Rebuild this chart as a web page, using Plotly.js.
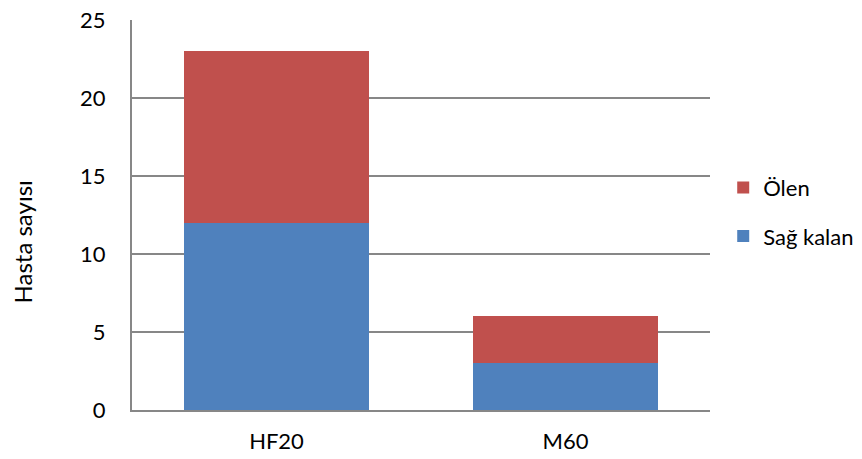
<!DOCTYPE html>
<html>
<head>
<meta charset="utf-8">
<script src="https://cdn.plot.ly/plotly-3.0.1.min.js"></script>
<style>
  html, body { margin: 0; padding: 0; background: #fff; }
  #chart { width: 862px; height: 459px; }
</style>
</head>
<body>
<div id="chart"></div>
<script>
// Patient counts per treatment group, stacked survivors + deaths
const groups = ["HF20", "M60"];
const survived = [12, 3];
const died = [11, 3];
const seriesNames = ["Sağ kalan", "Ölen"];
const yTicks = [0, 5, 10, 15, 20, 25];

const font = "Lato, 'Noto Sans', sans-serif";
const fs = 22;

const traces = [
  {
    type: "bar", name: seriesNames[0], x: groups, y: survived,
    marker: { color: "#4F81BD" }, legendgroup: "a", legendrank: 2
  },
  {
    type: "bar", name: seriesNames[1], x: groups, y: died,
    marker: { color: "#C0504D" }, legendgroup: "b", legendrank: 1
  }
];

const layout = {
  width: 862, height: 459,
  margin: { l: 132, r: 152, t: 20, b: 49 },
  paper_bgcolor: "#fff", plot_bgcolor: "#fff",
  barmode: "stack",
  bargap: 0.36,
  font: { family: font, size: fs, color: "#000" },
  xaxis: {
    showgrid: false, showline: true, linecolor: "#878787", linewidth: 2,
    ticks: "", ticklabelstandoff: 11, tickfont: { size: fs }
  },
  yaxis: {
    range: [0, 25], tickvals: yTicks, showgrid: true, gridcolor: "#878787", gridwidth: 1.5,
    showline: true, linecolor: "#878787", linewidth: 2, zeroline: false,
    ticks: "", ticklabelstandoff: 20, tickfont: { size: fs }
  },
  showlegend: true,
  legend: {
    xref: "container", yref: "container",
    x: 0.839, y: 0.637, xanchor: "left", yanchor: "top",
    traceorder: "grouped", tracegroupgap: 17,
    font: { size: fs }, itemwidth: 30
  },
  annotations: [{
    text: "Hasta sayısı", textangle: -90, xref: "paper", yref: "paper",
    x: -0.19, y: 0.43, xanchor: "center", yanchor: "middle",
    showarrow: false, font: { size: 24 }
  }]
};

Plotly.newPlot("chart", traces, layout, { displayModeBar: false, staticPlot: true });
</script>
</body>
</html>
